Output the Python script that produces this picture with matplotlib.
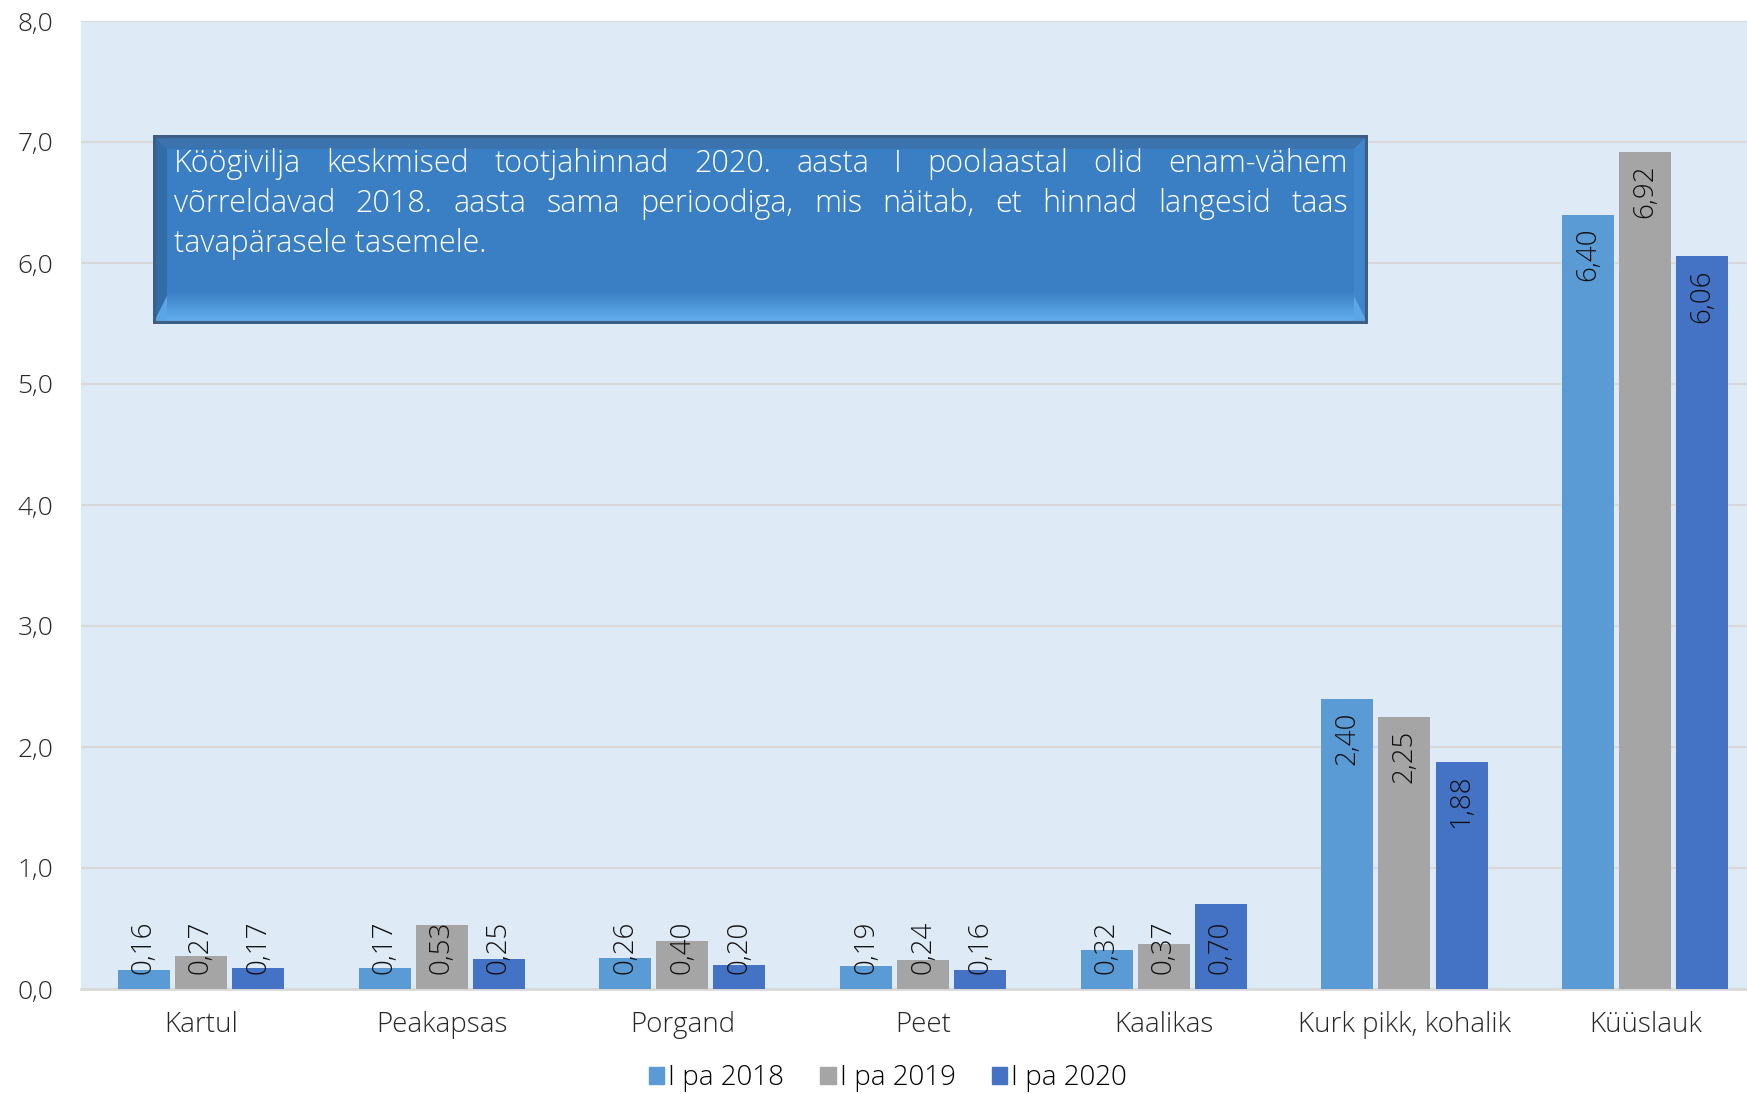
import matplotlib
matplotlib.use("Agg")
import matplotlib.pyplot as plt
import numpy as np
from matplotlib.patches import Patch, Rectangle, Polygon
from matplotlib.colors import LinearSegmentedColormap

plt.rcParams['font.family'] = ['Open Sans', 'DejaVu Sans']
FW = 'light'

categories = ['Kartul', 'Peakapsas', 'Porgand', 'Peet', 'Kaalikas', 'Kurk pikk, kohalik', 'Küüslauk']
series_names = ['I pa 2018', 'I pa 2019', 'I pa 2020']
pa_2018 = [0.16, 0.17, 0.26, 0.19, 0.32, 2.40, 6.40]
pa_2019 = [0.27, 0.53, 0.40, 0.24, 0.37, 2.25, 6.92]
pa_2020 = [0.17, 0.25, 0.20, 0.16, 0.70, 1.88, 6.06]
colors = ['#5B9BD5', '#A5A5A5', '#4472C4']

note_lines = [
    'Köögivilja keskmised tootjahinnad 2020. aasta I poolaastal olid enam-vähem',
    'võrreldavad 2018. aasta sama perioodiga, mis näitab, et hinnad langesid taas',
    'tavapärasele tasemele.',
]

W, H = 1747, 1094
fig = plt.figure(figsize=(W / 100, H / 100), dpi=100)
ax = fig.add_axes([81 / W, 1 - 989 / H, 1 - 81 / W, (989 - 21) / H])
ax.set_facecolor('#DEEAF6')

x = np.arange(len(categories))
width = 0.216
step = 0.237
for i, (vals, col, name) in enumerate(zip([pa_2018, pa_2019, pa_2020], colors, series_names)):
    xs = x + (i - 1) * step
    ax.bar(xs, vals, width=width, color=col, label=name, zorder=3)
    for xi, v in zip(xs, vals):
        txt = f'{v:.2f}'.replace('.', ',')
        if v < 0.75:
            ax.text(xi, 0.12, txt, rotation=90, ha='center', va='bottom',
                    fontsize=20, color='#111111', fontweight=FW, zorder=4)
        else:
            ax.text(xi, v - 0.11, txt, rotation=90, ha='center', va='top',
                    fontsize=20, color='#111111', fontweight=FW, zorder=4)

ax.set_ylim(0, 8)
ax.set_xlim(-0.4985, 6.423)
ax.set_yticks(np.arange(0, 9, 1))
ax.set_yticklabels([f'{t:.1f}'.replace('.', ',') for t in np.arange(0, 9, 1)],
                   fontsize=19, fontweight=FW, color='#262626')
ax.set_xticks(x)
ax.set_xticklabels(categories, fontsize=20, fontweight=FW, color='#262626')
ax.tick_params(axis='both', length=0)
ax.tick_params(axis='y', pad=20)
ax.tick_params(axis='x', pad=16)
ax.grid(axis='y', color='#D9D9D9', linewidth=1.5, zorder=0)
for s in ['top', 'right', 'left']:
    ax.spines[s].set_visible(False)
ax.spines['bottom'].set_color('#D9D9D9')
ax.spines['bottom'].set_linewidth(2)

handles = [Patch(color=c) for c in colors]
fig.legend(handles, series_names, loc='center', bbox_to_anchor=(888 / W, 1 - 1078 / H),
           ncol=3, frameon=False, handlelength=0.55, handleheight=0.55,
           handletextpad=0.15, columnspacing=1.3, prop={'weight': FW, 'size': 20})

# note box with bevel look
bx0, bx1, by0, by1 = 153, 1368, 135, 324
bax = fig.add_axes([bx0 / W, 1 - by1 / H, (bx1 - bx0) / W, (by1 - by0) / H])
bw, bh = bx1 - bx0, by1 - by0
bax.set_xlim(0, bw)
bax.set_ylim(bh, 0)
bax.axis('off')
bev = 14
bax.add_patch(Rectangle((0, 0), bw, bh, facecolor='#3A7FC3', edgecolor='none'))
# bevel edges
bax.add_patch(Polygon([(0, 0), (bw, 0), (bw - bev, bev), (bev, bev)], facecolor='#3B73AE', edgecolor='none', zorder=1))
bax.add_patch(Polygon([(0, 0), (bev, bev), (bev, bh - bev * 2), (0, bh)], facecolor='#336DA8', edgecolor='none', zorder=1))
bax.add_patch(Polygon([(bw, 0), (bw, bh), (bw - bev, bh - bev * 2), (bw - bev, bev)], facecolor='#3F86CB', edgecolor='none', zorder=1))
grad = np.linspace(0, 1, 60).reshape(-1, 1)
cm_bottom = LinearSegmentedColormap.from_list('b', ['#3A7FC3', '#67B3F3'])
bax.imshow(grad, extent=(bev, bw - bev, bh, bh - 32), cmap=cm_bottom, aspect='auto', zorder=1)
bax.add_patch(Polygon([(0, bh), (bev, bh - 2 * bev), (bev, bh)], facecolor='#5BA6E6', edgecolor='none', zorder=2))
bax.add_patch(Polygon([(bw, bh), (bw - bev, bh - 2 * bev), (bw - bev, bh)], facecolor='#5BA6E6', edgecolor='none', zorder=2))
bax.add_patch(Rectangle((1, 1), bw - 2, bh - 2, facecolor='none', edgecolor='#3E5E86', linewidth=3, zorder=3))

# justified text
fig.canvas.draw()
renderer = fig.canvas.get_renderer()
left_px, right_px = 174, 1348
line_y = [164, 204, 244]
tsize = 22
for li, (line, ly) in enumerate(zip(note_lines, line_y)):
    if li == len(note_lines) - 1:
        bax.text(left_px - bx0, ly - by0, line, color='white', fontsize=tsize,
                 fontweight=FW, ha='left', va='center', zorder=5)
        continue
    words = line.split(' ')
    arts = [bax.text(0, ly - by0, w, color='white', fontsize=tsize, fontweight=FW,
                     ha='left', va='center', zorder=5) for w in words]
    widths = [a.get_window_extent(renderer).width for a in arts]
    gap = ((right_px - left_px) - sum(widths)) / (len(words) - 1)
    cur = left_px - bx0
    for a, w in zip(arts, widths):
        a.set_x(cur)
        cur += w + gap

fig.savefig('out.png', dpi=100)
